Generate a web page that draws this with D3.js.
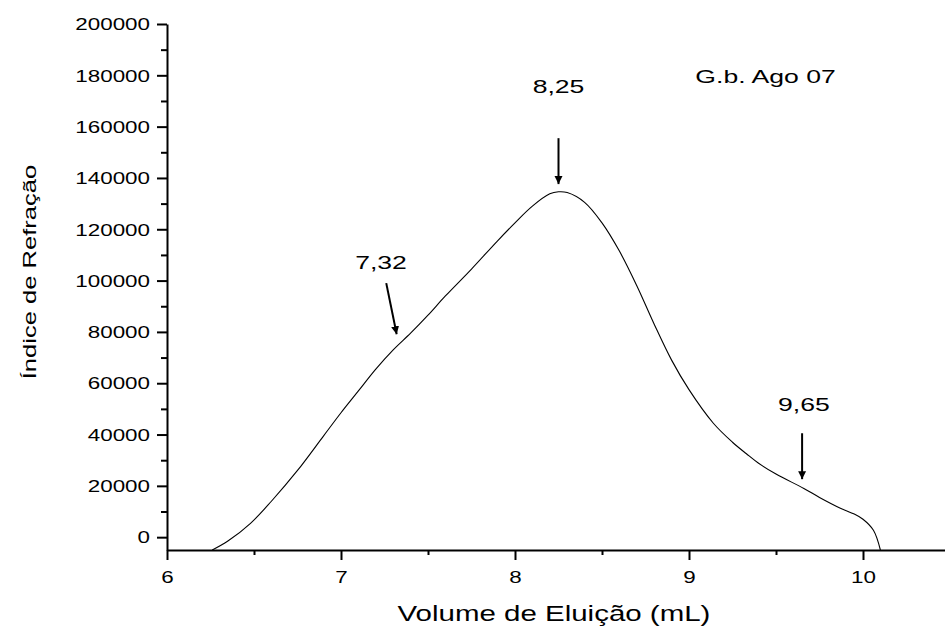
<!DOCTYPE html>
<html>
<head>
<meta charset="utf-8">
<script src="https://cdn.jsdelivr.net/npm/d3@7"></script>
<style>
  body { margin: 0; background: #fff; }
  text { font-family: "Liberation Sans", Arial, sans-serif; fill: #000; }
</style>
</head>
<body>
<svg id="chart"></svg>
<script>
// elution volume (mL) and refractive index signal
const volume = [6.26, 6.35, 6.48, 6.6, 6.75, 6.9, 7.0, 7.1, 7.2, 7.3, 7.4, 7.5, 7.6, 7.75, 7.9, 8.0, 8.1, 8.2, 8.25, 8.3, 8.4, 8.5, 8.6, 8.7, 8.8, 8.9, 9.0, 9.14, 9.25, 9.33, 9.4, 9.5, 9.66, 9.75, 9.87, 9.95, 10.0, 10.06, 10.1];
const signal = [-5000, -1500, 5400, 14000, 26000, 39500, 48500, 57000, 65500, 73000, 79500, 86500, 94000, 104500, 115500, 122500, 129000, 133800, 134600, 134300, 130500, 122500, 111500, 98000, 83000, 69000, 57500, 44400, 37000, 32500, 28800, 24600, 19000, 15500, 11300, 9000, 7000, 2700, -5000];

const xTicks = [6, 7, 8, 9, 10];
const xMinorTicks = [6.5, 7.5, 8.5, 9.5, 10.5];
const yTicks = [0, 20000, 40000, 60000, 80000, 100000, 120000, 140000, 160000, 180000, 200000];
const yMinorTicks = [10000, 30000, 50000, 70000, 90000, 110000, 130000, 150000, 170000, 190000];

// peak annotations: label, arrow start (x, y) and arrow end (x, y)
const peakLabels = ["7,32", "8,25", "9,65"];
const arrowFrom = [[7.26, 99000], [8.25, 155500], [9.65, 40500]];
const arrowTo = [[7.32, 79100], [8.25, 137600], [9.65, 22600]];
const labelPos = [[7.23, 104500], [8.25, 173000], [9.66, 49000]];
const sampleName = "G.b. Ago 07";

const w = 945;
const h = 633;
const stretch = 1.4;

const x = d3.scaleLinear().domain([6, 10.5]).range([167, 950]);
const y = d3.scaleLinear().domain([-5000, 200000]).range([550, 24]);

const svg = d3.select("#chart").attr("width", w).attr("height", h);

svg.append("defs").append("marker")
  .attr("id", "head")
  .attr("viewBox", "0 0 10 10")
  .attr("refX", 10).attr("refY", 5)
  .attr("markerWidth", 4).attr("markerHeight", 4.5)
  .attr("markerUnits", "strokeWidth")
  .attr("orient", "auto")
  .append("path").attr("d", "M0,0L10,5L0,10Z").attr("fill", "#000");

// minor ticks
svg.append("g")
  .attr("transform", "translate(0," + y(-5000) + ")")
  .call(d3.axisBottom(x).tickValues(xMinorTicks).tickSize(5).tickFormat(""))
  .call(g => g.select(".domain").remove());
svg.append("g")
  .attr("transform", "translate(" + x(6) + ",0)")
  .call(d3.axisLeft(y).tickValues(yMinorTicks).tickSize(6).tickFormat(""))
  .call(g => g.select(".domain").remove());

// major axes
const xAxis = svg.append("g")
  .attr("transform", "translate(0," + y(-5000) + ")")
  .call(d3.axisBottom(x).tickValues(xTicks).tickSize(10).tickSizeOuter(0).tickFormat(d3.format("d")));
xAxis.selectAll("text")
  .attr("y", 33).attr("dy", null)
  .attr("font-size", 16)
  .attr("transform", "scale(" + stretch + ",1)");

const yAxis = svg.append("g")
  .attr("transform", "translate(" + x(6) + ",0)")
  .call(d3.axisLeft(y).tickValues(yTicks).tickSize(10).tickSizeOuter(0).tickFormat(d3.format("d")));
yAxis.selectAll("text")
  .attr("x", -17 / stretch).attr("dy", "0.36em")
  .attr("font-size", 16)
  .attr("transform", "scale(" + stretch + ",1)");

svg.selectAll(".domain, .tick line").attr("stroke", "#000").attr("stroke-width", 2);
svg.selectAll(".tick text").attr("font-family", "'Liberation Sans', Arial, sans-serif").attr("fill", "#000");

// curve
svg.append("path")
  .datum(d3.zip(volume, signal))
  .attr("fill", "none")
  .attr("stroke", "#000")
  .attr("stroke-width", 1.1)
  .attr("d", d3.line().x(d => x(d[0])).y(d => y(d[1])).curve(d3.curveCatmullRom.alpha(0.5)));

// arrows and labels
peakLabels.forEach((lab, i) => {
  svg.append("line")
    .attr("x1", x(arrowFrom[i][0])).attr("y1", y(arrowFrom[i][1]))
    .attr("x2", x(arrowTo[i][0])).attr("y2", y(arrowTo[i][1]))
    .attr("stroke", "#000").attr("stroke-width", 2)
    .attr("marker-end", "url(#head)");
  svg.append("text")
    .attr("transform", "translate(" + x(labelPos[i][0]) + "," + y(labelPos[i][1]) + ") scale(" + stretch + ",1)")
    .attr("text-anchor", "middle")
    .attr("font-size", 19)
    .text(lab);
});

svg.append("text")
  .attr("transform", "translate(" + x(9.44) + "," + y(177000) + ") scale(" + stretch + ",1)")
  .attr("text-anchor", "middle")
  .attr("font-size", 19)
  .text(sampleName);

// axis titles
svg.append("text")
  .attr("transform", "translate(554,621) scale(1.34,1)")
  .attr("text-anchor", "middle")
  .attr("font-size", 22)
  .text("Volume de Eluição (mL)");

svg.append("text")
  .attr("transform", "translate(36,272) rotate(-90) scale(1.42,1)")
  .attr("text-anchor", "middle")
  .attr("font-size", 18)
  .text("Índice de Refração");
</script>
</body>
</html>
